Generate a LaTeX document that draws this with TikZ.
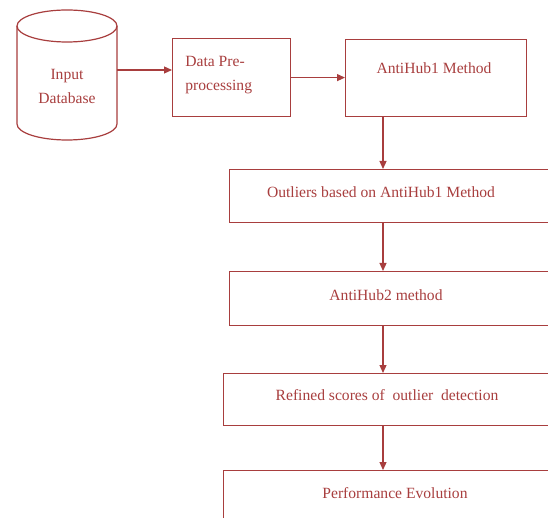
\documentclass[tikz,border=0pt]{standalone}
\usepackage{fontspec}
\setmainfont{Liberation Serif}
\newfontfamily\boxfont{Liberation Serif}
\usetikzlibrary{arrows.meta}

\definecolor{flowred}{RGB}{168,62,62}
\tikzset{every picture/.style={line width=1.2pt}}
\tikzset{
  flowbox/.style={draw=flowred, rectangle, anchor=north west, inner sep=0pt},
  flowtext/.style={text=flowred, inner sep=0.75pt, font=\boxfont\fontsize{15.6}{23.5}\selectfont},
  flowarrow/.style={draw=flowred, -{Triangle[length=8pt,width=7pt]}}
}

\begin{document}
\begin{tikzpicture}[x=1pt,y=1pt,yscale=-1,xscale=1]
\useasboundingbox (0,0) rectangle (548,518);
\clip (0,0) rectangle (548,518);

%Cylinder
\draw [flowred] (17,26) -- (17,124) arc [start angle=180, end angle=0, x radius=50, y radius=16] -- (117,26) ;
\draw [flowred] (67,26) ellipse [x radius=50, y radius=16] ;
\coordinate (db-e) at (117,70);
\coordinate (col) at (383,0);

% Boxes
\node [flowbox, minimum width=118, minimum height=78] (prep) at (172,38) {};
\node [flowbox, minimum width=181, minimum height=77] (anti1) at (345,39) {};
\node [flowbox, minimum width=340, minimum height=53] (out) at (229,169) {};
\node [flowbox, minimum width=340, minimum height=54] (anti2) at (229,271) {};
\node [flowbox, minimum width=340, minimum height=52] (refined) at (223,373) {};
\node [flowbox, minimum width=340, minimum height=60] (perf) at (223,470) {};

% Text Nodes
\node [flowtext, align=center] (db) at (67,86.5) {Input\\Database};
\node [flowtext, align=left, anchor=west] (prep-t) at (184,75) {Data Pre-\\processing};
\node [flowtext] (anti1-t) at (434,68) {AntiHub1 Method};
\node [flowtext] (out-t) at (381,192) {Outliers based on AntiHub1 Method};
\node [flowtext] (anti2-t) at (386,295) {AntiHub2 method};
\node [flowtext] (refined-t) at (387,395) {Refined scores of \ outlier \ detection};
\node [flowtext] (perf-t) at (395,493) {Performance Evolution};

% Arrows
\draw [flowarrow] (db-e) -- (db-e -| prep.west) ;
\draw [flowarrow] (prep.east) -- (prep.east -| anti1.west) ;
\draw [flowarrow] (anti1.south -| col) -- (out.north -| col) ;
\draw [flowarrow] (out.south -| col) -- (anti2.north -| col) ;
\draw [flowarrow] (anti2.south -| col) -- (refined.north -| col) ;
\draw [flowarrow] (refined.south -| col) -- (perf.north -| col) ;

\end{tikzpicture}
\end{document}
